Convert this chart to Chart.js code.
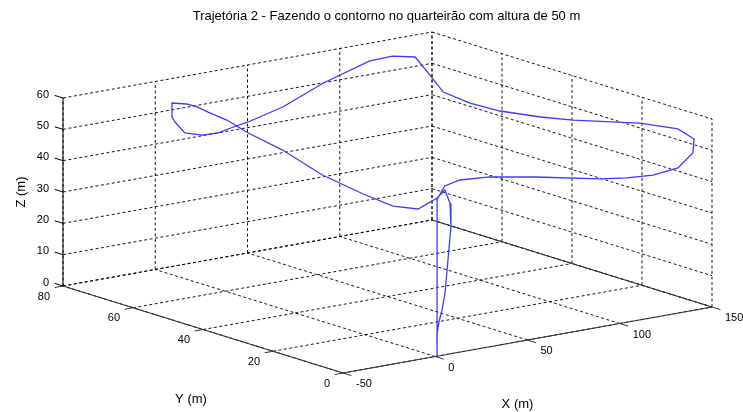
<!DOCTYPE html>
<html>
<head>
<meta charset="utf-8">
<script src="https://cdn.jsdelivr.net/npm/chart.js@4.4.0/dist/chart.umd.min.js"></script>
<style>
  html, body { margin: 0; padding: 0; background: #fff; }
  #wrap { width: 743px; height: 412px; }
</style>
</head>
<body>
<div id="wrap"><canvas id="trajChart"></canvas></div>
<script>
// ticks dos eixos
const xTicks = [-50, 0, 50, 100, 150];
const yTicks = [0, 20, 40, 60, 80];
const zTicks = [0, 10, 20, 30, 40, 50, 60];

// trajetória (m)
const trajX = [1, 1, 8.2, 20.1, 37.2, 59.6, 91.9, 105.8, 119.7, 134.4, 145.7, 147.7, 144.6, 134.6, 127.7,
  114.9, 107.1, 99.8, 98.3, 101.3, 115.5, 130.4, 123.7, 110.4, 70.1, 29.5, 1.0, -9.6, -21.4, -29.3,
  -32.9, -24.2, -19.6, -4.2, -0.2, 1.8, 1.7, 1.0, -4.2, -7.8, -18.3, -21.8, -21.4, -9.1, 1.6, 7.3,
  8.0, 8.5, 6.9, 5.3, 3.7, 2.0, 0.9, 1];
const trajY = [0, 0, 1.6, 3.5, 4.0, 2.9, 1.4, 1.0, 0.9, 1.5, 3.2, 3.9, 6.9, 12.5, 15.5,
  21.2, 26.4, 34.1, 41.9, 51.1, 62.4, 74.5, 77.4, 76.9, 68.9, 59.1, 54.0, 52.6, 50.7, 51.2,
  54.2, 61.6, 64.8, 73.0, 70.9, 69.0, 65.8, 60.1, 51.2, 39.5, 22.6, 9.1, 0.8, 0.1, 0.3, 1.1,
  0, 0, 0, 0, 0, 0, 0, 0];
const trajZ = [0, 50, 53, 53, 52, 50, 46.5, 45.5, 45, 45.5, 48.5, 52.5, 55, 56, 56,
  56, 56, 56, 56, 56, 56, 56, 56, 56, 56, 56, 56, 56, 56, 56,
  56, 56, 56, 56, 56, 55.5, 55, 54.5, 54, 53, 52, 51, 50, 48, 50.3, 52,
  48.1, 40.4, 30.1, 19.7, 14.5, 10.8, 6.8, 0];

// vista 3D (az -37.5, el 30) em unidades de tela
const view = {
    ox: 343, oy: 373,
    ex: [1.845, -0.33],
    ey: [-3.5, -1.0875],
    ez: [0, -3.1333]
};
const xMin = xTicks[0], xMax = xTicks[xTicks.length - 1];
const yMin = yTicks[0], yMax = yTicks[yTicks.length - 1];
const zMin = zTicks[0], zMax = zTicks[zTicks.length - 1];

function proj(X, Y, Z) {
    const u = X - xMin, v = Y - yMin, w = Z - zMin;
    return {
        x: view.ox + u * view.ex[0] + v * view.ey[0] + w * view.ez[0],
        y: view.oy + u * view.ex[1] + v * view.ey[1] + w * view.ez[1]
    };
}

function seg(a, b, color, width, dash) {
    return {
        data: [a, b],
        showLine: true,
        pointRadius: 0,
        borderColor: color,
        borderWidth: width,
        borderDash: dash || [],
        fill: false
    };
}

const datasets = [];

// trajetória (primeiro = desenhado por cima)
datasets.push({
    data: trajX.map((x, i) => proj(x, trajY[i], trajZ[i])),
    showLine: true,
    pointRadius: 0,
    borderColor: 'rgb(60,60,255)',
    borderWidth: 1.3,
    tension: 0,
    fill: false
});

// eixos
const axisColor = '#333';
datasets.push(seg(proj(xMin, yMax, zMin), proj(xMin, yMax, zMax), '#000', 1));
datasets.push(seg(proj(xMin, yMax, zMin), proj(xMin, yMin, zMin), axisColor, 1.2));
datasets.push(seg(proj(xMin, yMin, zMin), proj(xMax, yMin, zMin), axisColor, 1.2));
datasets.push(seg(proj(xMax, yMax, zMin), proj(xMax, yMin, zMin), axisColor, 1));
zTicks.forEach(z => datasets.push(seg(proj(xMin, yMax, z), proj(xMin, yMax + 2.4, z), '#000', 1)));
yTicks.forEach(y => datasets.push(seg(proj(xMin, y, zMin), proj(xMin - 4.5, y, zMin), axisColor, 1)));
xTicks.forEach(x => datasets.push(seg(proj(x, yMin, zMin), proj(x, yMin - 2.4, zMin), axisColor, 1)));

// grade pontilhada
const gridColor = 'rgba(0,0,0,0.9)';
const dash = [3, 2.5];
xTicks.forEach(x => {
    datasets.push(seg(proj(x, yMax, zMin), proj(x, yMax, zMax), gridColor, 1, dash));
    datasets.push(seg(proj(x, yMin, zMin), proj(x, yMax, zMin), gridColor, 1, dash));
});
yTicks.forEach(y => {
    datasets.push(seg(proj(xMax, y, zMin), proj(xMax, y, zMax), gridColor, 1, dash));
    datasets.push(seg(proj(xMin, y, zMin), proj(xMax, y, zMin), gridColor, 1, dash));
});
zTicks.forEach(z => {
    datasets.push(seg(proj(xMin, yMax, z), proj(xMax, yMax, z), gridColor, 1, dash));
    datasets.push(seg(proj(xMax, yMax, z), proj(xMax, yMin, z), gridColor, 1, dash));
});

// textos: título, rótulos dos ticks e dos eixos
const textPlugin = {
    id: 'axisText',
    afterDraw(chart) {
        const ctx = chart.ctx;
        const sx = chart.scales.x, sy = chart.scales.y;
        const px = p => [sx.getPixelForValue(p.x), sy.getPixelForValue(p.y)];
        ctx.save();
        ctx.fillStyle = '#000';
        ctx.font = '11px "Liberation Sans", Arial, sans-serif';
        ctx.textBaseline = 'middle';

        ctx.textAlign = 'right';
        zTicks.forEach(z => {
            const [x, y] = px(proj(xMin, yMax, z));
            ctx.fillText(String(z), x - 14, y - 3.5);
        });
        yTicks.forEach(v => {
            const [x, y] = px(proj(xMin, v, zMin));
            ctx.fillText(String(v), x - 13, y + 10.5);
        });
        ctx.textAlign = 'left';
        xTicks.forEach(v => {
            const [x, y] = px(proj(v, yMin, zMin));
            ctx.fillText(String(v), x + 13, y + 11);
        });

        ctx.textAlign = 'center';
        ctx.font = '13px "Liberation Sans", Arial, sans-serif';
        const yMid = px(proj(xMin, (yMin + yMax) / 2, zMin));
        ctx.fillText('Y (m)', yMid[0] - 12, yMid[1] + 70);
        const xMid = px(proj((xMin + xMax) / 2, yMin, zMin));
        ctx.fillText('X (m)', xMid[0] - 10, xMid[1] + 64);
        const zMid = px(proj(xMin, yMax, (zMin + zMax) / 2));
        ctx.save();
        ctx.translate(zMid[0] - 42, zMid[1]);
        ctx.rotate(-Math.PI / 2);
        ctx.fillText('Z (m)', 0, 0);
        ctx.restore();

        const left = px(proj(xMin, yMax, zMin));
        const right = px(proj(xMax, yMin, zMin));
        ctx.fillText('Trajetória 2 - Fazendo o contorno no quarteirão com altura de 50 m', (left[0] + right[0]) / 2 - 1, 16);
        ctx.restore();
    }
};

new Chart(document.getElementById('trajChart'), {
    type: 'scatter',
    data: { datasets: datasets },
    options: {
        responsive: true,
        maintainAspectRatio: false,
        animation: false,
        layout: { padding: 0 },
        scales: {
            x: { type: 'linear', min: 0, max: 743, display: false },
            y: { type: 'linear', min: 0, max: 412, reverse: true, display: false }
        },
        plugins: {
            legend: { display: false },
            tooltip: { enabled: false }
        }
    },
    plugins: [textPlugin]
});
</script>
</body>
</html>
